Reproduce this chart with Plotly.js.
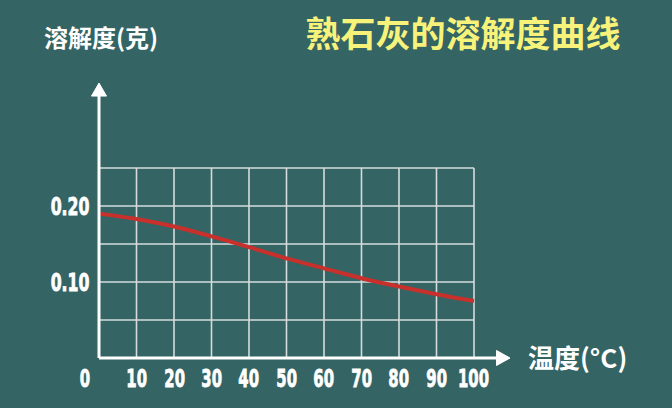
<!DOCTYPE html>
<html>
<head>
<meta charset="utf-8">
<script src="https://cdn.plot.ly/plotly-3.0.1.min.js"></script>
<style>html,body{margin:0;padding:0;background:#346464;}#chart{width:672px;height:408px;}</style>
</head>
<body>
<div id="chart"></div>
<script>
// Data
const temperatures = [0, 10, 20, 30, 40, 50, 60, 70, 80, 90, 100];
const solubility = [0.190, 0.183, 0.173, 0.160, 0.146, 0.131, 0.118, 0.105, 0.094, 0.084, 0.075];
const xTickValues = [10, 20, 30, 40, 50, 60, 70, 80, 90, 100];
const xTickLabels = ['10', '20', '30', '40', '50', '60', '70', '80', '90', '100'];
const yTickValues = [0.10, 0.20];
const yTickLabels = ['0.10', '0.20'];
const gridX = [10, 20, 30, 40, 50, 60, 70, 80, 90, 100];
const gridY = [0.05, 0.10, 0.15, 0.20, 0.25];
const titleText = '熟石灰的溶解度曲线';
const yTitleText = '溶解度(克)';
const xTitleText = '温度(°C)';

const BG = '#346464';
const GRID = '#d6dcdc';
const CJK = '"Noto Sans CJK SC", "Noto Sans", sans-serif';
const NUM = '"DejaVu Sans Condensed", "DejaVu Sans", sans-serif';

const xMax = gridX[gridX.length - 1];
const yMax = gridY[gridY.length - 1];

// grid lines built from grid arrays
const gx = [], gy = [];
gridX.forEach(v => { gx.push(v, v, null); gy.push(0, yMax, null); });
gridY.forEach(v => { gx.push(0, xMax, null); gy.push(v, v, null); });

const traces = [
  {x: gx, y: gy, mode: 'lines', line: {color: GRID, width: 1.6}, hoverinfo: 'skip', showlegend: false},
  {x: temperatures, y: solubility, mode: 'lines', line: {color: '#c8302c', width: 4, shape: 'spline'}, showlegend: false}
];

const annotations = [];
const squeeze = []; // [index, scale, origin, stroke]
annotations.push({
  x: -0.039, y: 1.12, xref: 'paper', yref: 'paper', text: yTitleText, showarrow: false,
  xanchor: 'left', yanchor: 'middle', font: {family: CJK, size: 24, color: '#ffffff', weight: 'bold'}
});
annotations.push({
  x: 1.124, y: 0.12, xref: 'paper', yref: 'paper', text: xTitleText, showarrow: false,
  xanchor: 'center', yanchor: 'middle', font: {family: CJK, size: 26, color: '#ffffff', weight: 'bold'}
});
const numFont = {family: NUM, size: 25, color: '#ffffff', weight: 'bold'};
xTickValues.forEach((v, i) => {
  squeeze.push([annotations.length, 0.66, 'center']);
  annotations.push({x: v, y: 0, xref: 'x', yref: 'y', text: xTickLabels[i], showarrow: false,
    yanchor: 'middle', yshift: -20, font: numFont});
});
squeeze.push([annotations.length, 0.66, 'center']);
annotations.push({x: 0, y: 0, xref: 'x', yref: 'y', text: '0', showarrow: false,
  yanchor: 'middle', xshift: -14, yshift: -20, font: numFont});
yTickValues.forEach((v, i) => {
  squeeze.push([annotations.length, 0.7, 'right center']);
  annotations.push({x: 0, y: v, xref: 'x', yref: 'y', text: yTickLabels[i], showarrow: false,
    xanchor: 'right', yanchor: 'middle', xshift: -7, font: numFont});
});

// axis lines and arrow heads (decoration)
const shapes = [
  {type: 'line', xref: 'x', yref: 'y', x0: 0, y0: 0, x1: 106.5, y1: 0, line: {color: '#ffffff', width: 3}},
  {type: 'line', xref: 'x', yref: 'y', x0: 0, y0: 0, x1: 0, y1: 0.346, line: {color: '#ffffff', width: 3}},
  {type: 'path', xref: 'x', yref: 'y', path: 'M 106 -0.0099 L 109.6 0 L 106 0.0099 Z', fillcolor: '#ffffff', line: {color: '#ffffff', width: 1}},
  {type: 'path', xref: 'x', yref: 'y', path: 'M -2.0 0.3447 L 0 0.3618 L 2.0 0.3447 Z', fillcolor: '#ffffff', line: {color: '#ffffff', width: 1}}
];

const layout = {
  width: 672, height: 408,
  paper_bgcolor: BG, plot_bgcolor: BG,
  margin: {l: 60, r: 152, t: 75, b: 13},
  title: {text: titleText, x: 0.689, xanchor: 'center', y: 0.915, yanchor: 'middle',
          font: {family: CJK, size: 35, color: '#f7f27a', weight: 'bold'}},
  xaxis: {range: [-10.4, 112.27], showgrid: false, zeroline: false, showticklabels: false, showline: false, fixedrange: true},
  yaxis: {range: [-0.04868, 0.3724], showgrid: false, zeroline: false, showticklabels: false, showline: false, fixedrange: true},
  annotations: annotations,
  shapes: shapes,
  showlegend: false
};

Plotly.newPlot('chart', traces, layout, {staticPlot: true, displayModeBar: false}).then(() => {
  const groups = document.querySelectorAll('#chart g.annotation');
  groups.forEach(g => {
    const idx = +g.getAttribute('data-index');
    const s = squeeze.find(q => q[0] === idx);
    if (!s) return;
    const t = g.querySelector('text');
    if (!t) return;
    t.style.transformBox = 'fill-box';
    t.style.transformOrigin = s[2];
    t.style.transform = 'scaleX(' + s[1] + ')';
    t.style.stroke = '#ffffff';
    t.style.strokeWidth = '0.8px';
  });
});
</script>
</body>
</html>
